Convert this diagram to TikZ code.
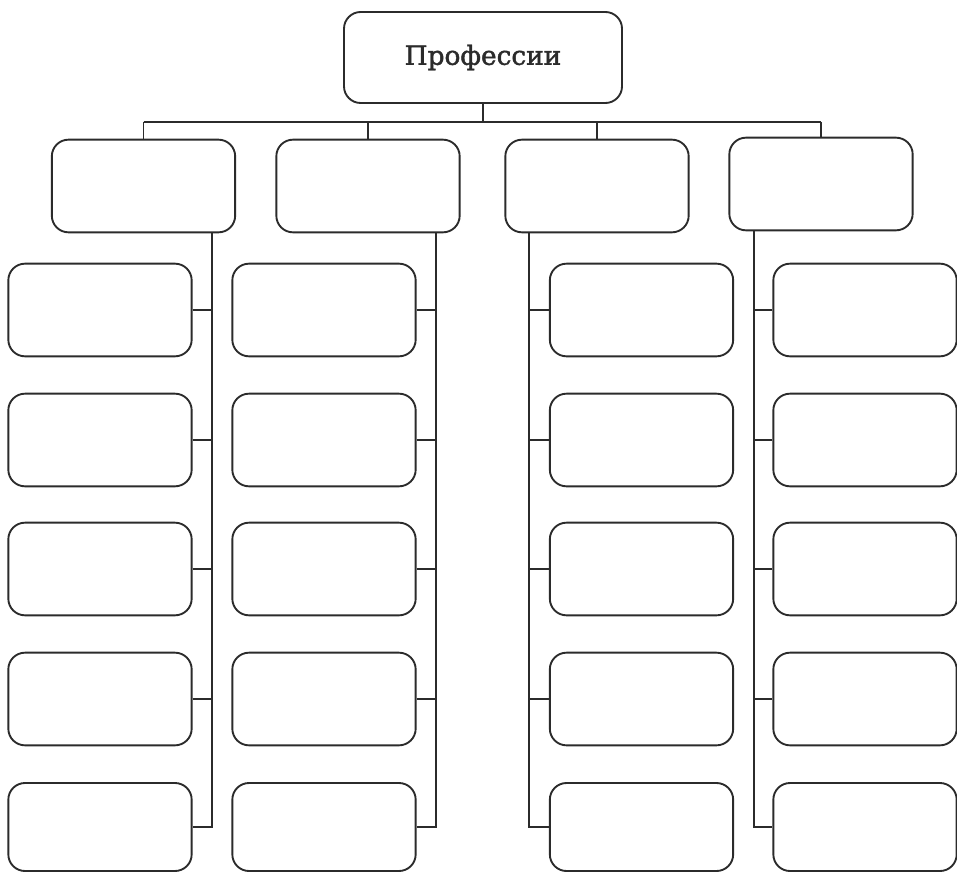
\documentclass[tikz,border=0pt]{standalone}
\usepackage{fontspec}
\setmainfont{DejaVu Serif}
\newfontfamily\titlefont{DejaVu Serif}[FakeBold=1.6]
\definecolor{ink}{HTML}{2B2B2B}
\tikzset{
  box/.style={draw=ink, line width=1.6pt, rounded corners=0.5cm, fill=none,
    minimum width=5.5cm, minimum height=2.78cm, inner sep=0pt},
  topbox/.style={box, minimum width=8.34cm, minimum height=2.73cm},
  lastbox/.style={box, minimum height=2.64cm},
  link/.style={draw=ink, line width=1.6pt}
}
\begin{document}
\begin{tikzpicture}[x=0.03cm,y=-0.03cm]
\useasboundingbox (0,0) rectangle (957,872);
\fill[white] (0,0) rectangle (957,872);
% top
\node[topbox, font=\titlefont\fontsize{22.5}{26}\selectfont, text=ink] (top) at (483,57.5) {Профессии};
% level 1
\node[box] (b1) at (143.5,186) {};
\node[box] (b2) at (368,186) {};
\node[box] (b3) at (597,186) {};
\node[box] (b4) at (821,184) {};
% bus
\coordinate (bus) at (481,122);
\draw[link] (top.south) -- (top.south |- bus);
\draw[link] (b1.north |- bus) -- (b4.north |- bus);
\foreach \i in {1,2,3,4} \draw[link] (b\i.north |- bus) -- (b\i.north);
% level 2
\foreach \c/\x in {1/100,2/324,3/641.5,4/865}{
  \foreach \r/\y in {1/310,2/440,3/569,4/699}{
    \node[box] (c\c\r) at (\x,\y) {};
  }
  \node[lastbox] (c\c5) at (\x,827) {};
}
% spines
\coordinate (s1) at (212,232);
\coordinate (s2) at (436,232);
\coordinate (s3) at (529,232);
\coordinate (s4) at (754,232);
\foreach \c in {1,2}{
  \draw[link] (b\c.south -| s\c) -- (s\c |- c\c5.east) -- (c\c5.east);
  \foreach \r in {1,2,3,4} \draw[link] (c\c\r.east) -- (c\c\r.east -| s\c);
}
\foreach \c in {3,4}{
  \draw[link] (b\c.south -| s\c) -- (s\c |- c\c5.west) -- (c\c5.west);
  \foreach \r in {1,2,3,4} \draw[link] (c\c\r.west) -- (c\c\r.west -| s\c);
}
\end{tikzpicture}
\end{document}
